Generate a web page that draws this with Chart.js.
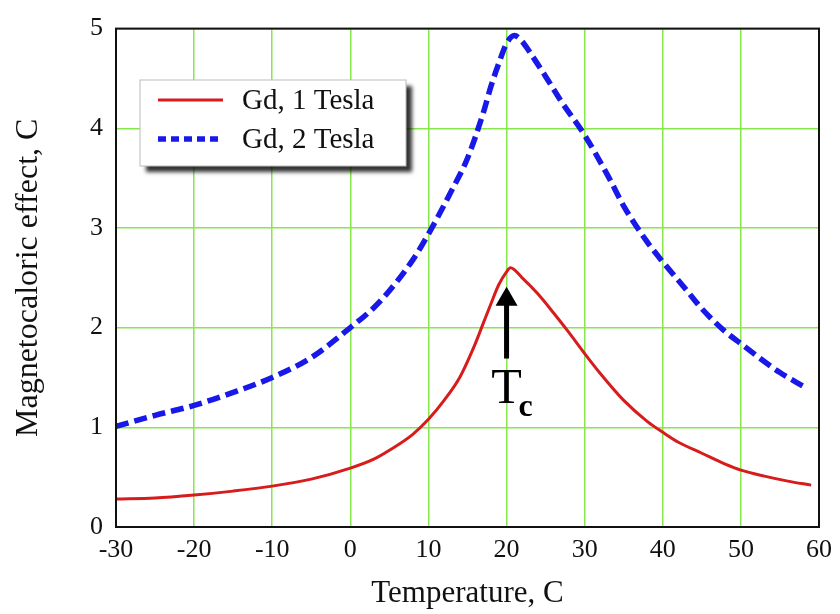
<!DOCTYPE html>
<html>
<head>
<meta charset="utf-8">
<script src="https://cdn.jsdelivr.net/npm/chart.js@4.4.1/dist/chart.umd.min.js"></script>
<style>
  body { margin: 0; background: #fff; }
  canvas { display: block; }
</style>
</head>
<body>
<canvas id="chart" width="840" height="614"></canvas>
<script>
// axis ticks
const xTicks = [-30, -20, -10, 0, 10, 20, 30, 40, 50, 60];
const yTicks = [0, 1, 2, 3, 4, 5];

// Gd, 1 Tesla (red, solid)
const temps1T = [-30, -25, -20, -15, -10, -5, 0, 3, 5, 8, 10, 12, 14, 16, 17, 18, 19, 20, 20.5, 22, 24, 26, 28, 30, 32, 35, 38, 40, 42, 45, 48, 50, 53, 56, 59];
const gd1Tesla = [0.28, 0.29, 0.32, 0.36, 0.41, 0.48, 0.59, 0.68, 0.77, 0.93, 1.08, 1.27, 1.50, 1.84, 2.04, 2.24, 2.43, 2.56, 2.60, 2.50, 2.34, 2.15, 1.95, 1.74, 1.54, 1.27, 1.06, 0.95, 0.85, 0.74, 0.63, 0.57, 0.51, 0.46, 0.42];

// Gd, 2 Tesla (blue, dashed)
const temps2T = [-30, -25, -20, -15, -10, -5, 0, 3, 5, 8, 10, 13, 15, 17, 18, 19, 20, 21, 22, 23, 25, 27, 30, 33, 35, 38, 40, 43, 45, 48, 50, 53, 55, 58];
const gd2Tesla = [1.01, 1.12, 1.22, 1.35, 1.50, 1.70, 2.00, 2.20, 2.37, 2.68, 2.94, 3.38, 3.70, 4.15, 4.42, 4.65, 4.85, 4.93, 4.87, 4.76, 4.52, 4.27, 3.93, 3.52, 3.22, 2.86, 2.66, 2.38, 2.19, 1.96, 1.84, 1.66, 1.55, 1.41];

// Curie temperature marker
const tcTemp = 20;
const arrowTip = 2.41;
const arrowTail = 1.69;
const tcBaseline = 1.24;

const serif = "'Liberation Serif', 'Times New Roman', serif";
const gridGreen = '#86e84a';

function toPoints(xs, ys) {
  return xs.map((x, i) => ({ x: x, y: ys[i] }));
}

// black frame round the plot
const framePlugin = {
  id: 'frame',
  afterDraw(chart) {
    const { ctx, chartArea: a } = chart;
    ctx.save();
    ctx.strokeStyle = '#111';
    ctx.lineWidth = 2;
    ctx.strokeRect(a.left, a.top, a.right - a.left, a.bottom - a.top);
    ctx.restore();
  }
};

// legend box with shadow, drawn from the datasets
const legendBox = {
  id: 'legendBox',
  afterDatasetsDraw(chart) {
    const ctx = chart.ctx;
    const bx = 140, by = 80, bw = 266, bh = 86;
    ctx.save();
    ctx.shadowColor = 'rgba(0,0,0,0.8)';
    ctx.shadowBlur = 4;
    ctx.shadowOffsetX = 6;
    ctx.shadowOffsetY = 6;
    ctx.fillStyle = '#fff';
    ctx.fillRect(bx, by, bw, bh);
    ctx.shadowColor = 'transparent';
    ctx.strokeStyle = '#bbb';
    ctx.lineWidth = 1;
    ctx.strokeRect(bx, by, bw, bh);

    chart.data.datasets.forEach((ds, i) => {
      const y = by + 20 + i * 39;
      ctx.beginPath();
      ctx.strokeStyle = ds.borderColor;
      ctx.lineWidth = ds.borderWidth;
      ctx.setLineDash(ds.legendDash || []);
      ctx.moveTo(158, y);
      ctx.lineTo(223, y);
      ctx.stroke();
      ctx.setLineDash([]);
      ctx.fillStyle = '#111';
      ctx.font = '29px ' + serif;
      ctx.textBaseline = 'middle';
      ctx.textAlign = 'left';
      ctx.fillText(ds.label, 242, y + 1);
    });
    ctx.restore();
  }
};

// arrow and T_c label
const tcMarker = {
  id: 'tcMarker',
  afterDatasetsDraw(chart) {
    const { ctx, scales: { x, y } } = chart;
    const px = x.getPixelForValue(tcTemp);
    const tip = y.getPixelForValue(arrowTip);
    const tail = y.getPixelForValue(arrowTail);
    const base = y.getPixelForValue(tcBaseline);
    ctx.save();
    ctx.fillStyle = '#000';
    ctx.strokeStyle = '#000';
    ctx.lineWidth = 5;
    ctx.beginPath();
    ctx.moveTo(px, tail);
    ctx.lineTo(px, tip + 16);
    ctx.stroke();
    ctx.beginPath();
    ctx.moveTo(px, tip);
    ctx.lineTo(px - 11, tip + 19);
    ctx.lineTo(px + 11, tip + 19);
    ctx.closePath();
    ctx.fill();

    ctx.textBaseline = 'alphabetic';
    ctx.textAlign = 'center';
    ctx.font = '50px ' + serif;
    ctx.fillText('T', px, base);
    ctx.textAlign = 'left';
    ctx.font = 'bold 32px ' + serif;
    ctx.fillText('c', px + 12, base + 13);
    ctx.restore();
  }
};

new Chart(document.getElementById('chart'), {
  type: 'line',
  data: {
    datasets: [
      {
        label: 'Gd, 1 Tesla',
        data: toPoints(temps1T, gd1Tesla),
        borderColor: '#d81c1c',
        borderWidth: 3,
        pointRadius: 0,
        cubicInterpolationMode: 'monotone'
      },
      {
        label: 'Gd, 2 Tesla',
        data: toPoints(temps2T, gd2Tesla),
        borderColor: '#1818e8',
        borderWidth: 5.5,
        borderDash: [13, 6],
        legendDash: [8, 5],
        pointRadius: 0,
        cubicInterpolationMode: 'monotone'
      }
    ]
  },
  options: {
    responsive: false,
    animation: false,
    devicePixelRatio: 1,
    layout: { padding: { top: 19, right: 17, left: 0, bottom: 0 } },
    plugins: {
      legend: { display: false },
      tooltip: { enabled: false }
    },
    scales: {
      x: {
        type: 'linear',
        min: xTicks[0],
        max: xTicks[xTicks.length - 1],
        afterBuildTicks(scale) {
          scale.ticks = xTicks.map(v => ({ value: v }));
        },
        afterFit(scale) { scale.height = 87; },
        grid: { color: gridGreen, lineWidth: 1.5, drawTicks: false },
        border: { display: false },
        ticks: {
          padding: 8,
          color: '#111',
          font: { family: serif, size: 26 },
          maxRotation: 0
        },
        title: {
          display: true,
          text: 'Temperature, C',
          color: '#111',
          font: { family: serif, size: 31 },
          padding: { top: 0, bottom: 2 }
        }
      },
      y: {
        min: yTicks[0],
        max: yTicks[yTicks.length - 1],
        afterBuildTicks(scale) {
          scale.ticks = yTicks.map(v => ({ value: v }));
        },
        afterFit(scale) { scale.width = 116; },
        grid: { color: gridGreen, lineWidth: 1.5, drawTicks: false },
        border: { display: false },
        ticks: {
          padding: 13,
          color: '#111',
          font: { family: serif, size: 26 }
        },
        title: {
          display: true,
          text: 'Magnetocaloric effect, C',
          color: '#111',
          font: { family: serif, size: 32 },
          padding: { top: 9, bottom: 0 }
        }
      }
    }
  },
  plugins: [framePlugin, legendBox, tcMarker]
});
</script>
</body>
</html>
